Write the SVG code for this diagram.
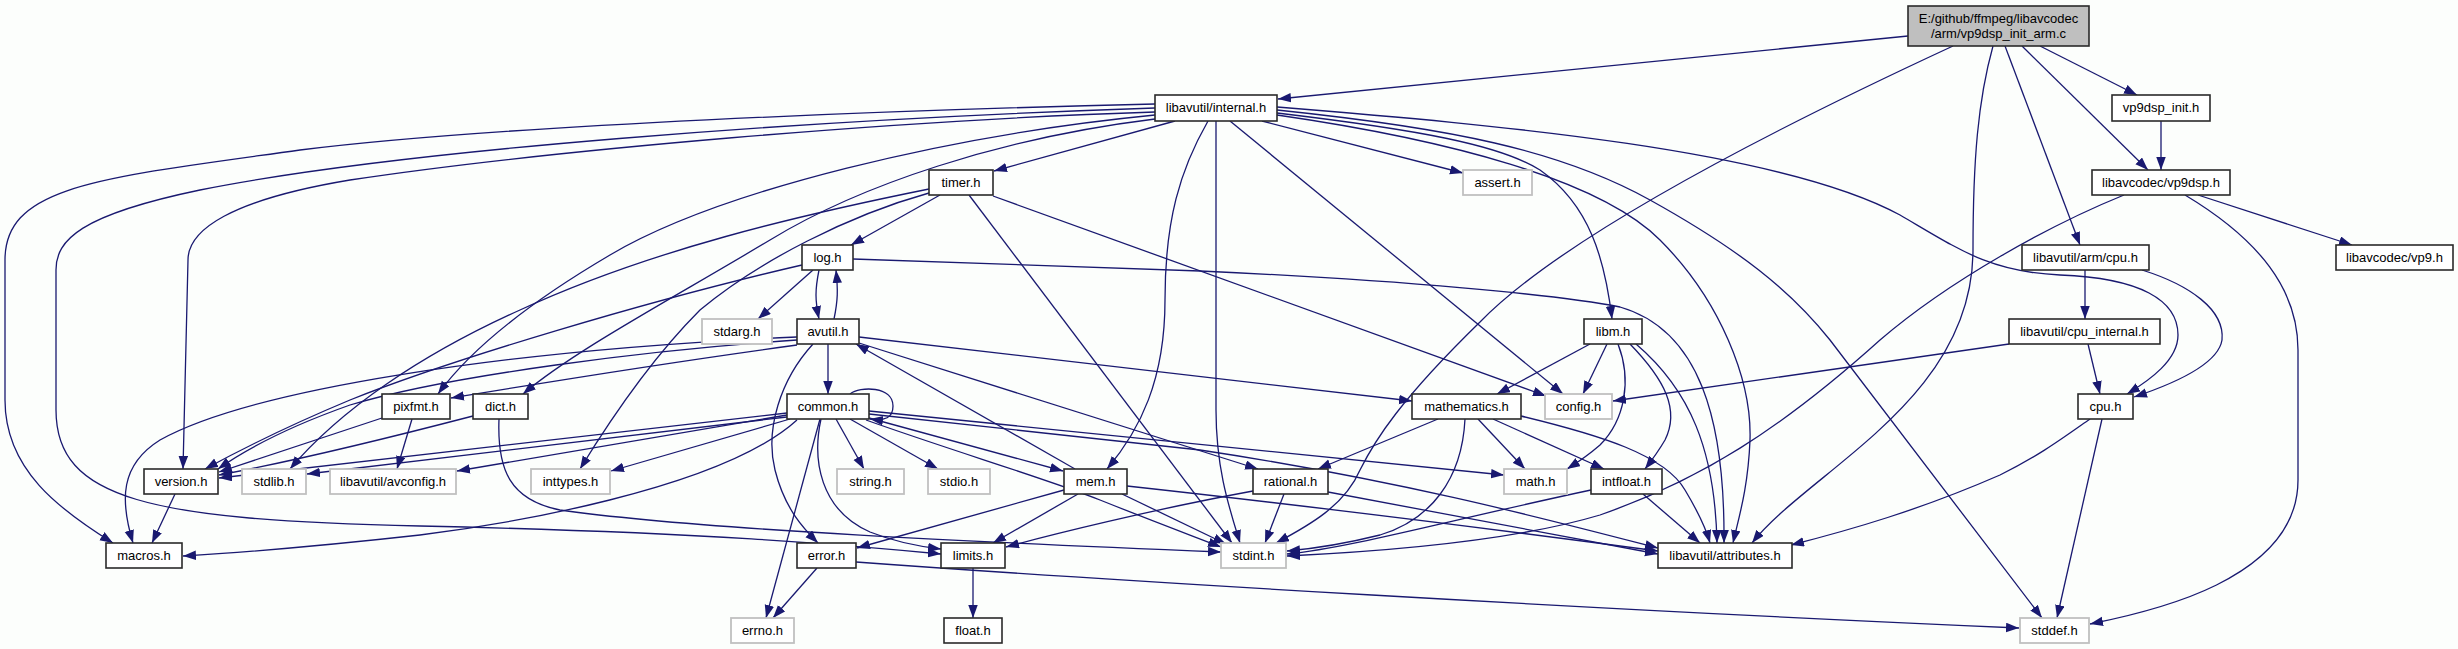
<svg xmlns="http://www.w3.org/2000/svg" width="2458" height="649" viewBox="0 0 2458 649">
<style>
.bg{fill:#fcfefc}
.e{fill:none;stroke:#191970;stroke-width:1.3;marker-end:url(#ah)}
.n rect{fill:#ffffff;stroke:#2a2a2a;stroke-width:1.6}
.g rect{fill:#ffffff;stroke:#c0c0c0;stroke-width:1.8}
.r rect{fill:#bfbfbf;stroke:#2a2a2a;stroke-width:1.6}
text{font-family:"Liberation Sans",Arial,sans-serif;font-size:13px;fill:#000;text-anchor:middle}
</style>
<defs>
<marker id="ah" markerUnits="userSpaceOnUse" markerWidth="13" markerHeight="10" refX="13" refY="4.75" orient="auto">
<path d="M0,0 L13,4.75 L0,9.5 z" fill="#191970"/>
</marker>
</defs>
<rect class="bg" x="0" y="0" width="2458" height="649"/>
<g id="edges">
<path class="e" d="M1908,36 L1278,99"/>
<path class="e" d="M2040,46 L2137,95"/>
<path class="e" d="M2022,46 L2148,170"/>
<path class="e" d="M2005,46 L2080,245"/>
<path class="e" d="M1993,46 C1978,100 1973,160 1973,250 C1973,400 1810,470 1752,543"/>
<path class="e" d="M1953,46 C1750,140 1560,240 1480,322 C1400,400 1375,440 1360,470 C1345,505 1310,525 1276,543"/>
<path class="e" d="M2161,121 L2161,170"/>
<path class="e" d="M2198,195 L2352,245"/>
<path class="e" d="M2185,195 C2260,240 2298,290 2298,350 L2298,480 C2298,580 2150,612 2090,624"/>
<path class="e" d="M2124,195 C2050,225 1950,280 1880,340 C1780,430 1700,480 1600,515 C1500,545 1350,553 1287,556"/>
<path class="e" d="M1175,121 L994,171"/>
<path class="e" d="M1262,121 L1463,173"/>
<path class="e" d="M1155,104 C900,110 500,125 300,150 C100,178 5,185 5,260 L5,400 C5,470 60,510 113,543"/>
<path class="e" d="M1155,108 C800,120 400,150 200,190 C80,215 56,240 56,270 L56,410 C56,500 150,520 420,526 C700,532 850,545 941,554"/>
<path class="e" d="M1155,112 C900,120 550,150 350,180 C230,200 188,230 188,260 L183,469"/>
<path class="e" d="M1155,115 C950,135 720,190 610,255 C525,305 470,350 438,394"/>
<path class="e" d="M1155,119 C1000,138 860,185 770,240 C670,300 575,350 523,394"/>
<path class="e" d="M1208,121 C1180,170 1165,220 1165,300 C1165,380 1140,430 1107,469"/>
<path class="e" d="M1216,121 L1216,410 C1216,470 1230,510 1240,543"/>
<path class="e" d="M1230,121 L1563,394"/>
<path class="e" d="M1277,113 C1420,130 1500,145 1540,170 C1590,205 1605,260 1612,319"/>
<path class="e" d="M1277,115 C1450,140 1600,180 1660,240 C1720,300 1752,380 1750,440 C1748,490 1738,520 1733,543"/>
<path class="e" d="M1277,110 C1450,128 1560,150 1650,200 C1740,250 1790,290 1830,340 L2042,618"/>
<path class="e" d="M1277,107 C1500,125 1780,150 1900,215 C1960,250 1990,272 2060,275 C2140,278 2178,300 2178,335 C2178,360 2150,380 2127,394"/>
<path class="e" d="M940,195 L851,245"/>
<path class="e" d="M969,195 L1232,543"/>
<path class="e" d="M993,196 L1546,396"/>
<path class="e" d="M929,189 C800,215 650,250 520,310 C420,355 340,410 290,469"/>
<path class="e" d="M929,193 C850,215 760,260 700,310 C650,360 610,420 580,469"/>
<path class="e" d="M813,270 L758,319"/>
<path class="e" d="M819,270 C815,290 815,300 819,319"/>
<path class="e" d="M853,259 L1200,271 C1400,280 1560,295 1620,307 C1700,330 1725,420 1724,543"/>
<path class="e" d="M802,265 C650,300 450,360 350,400 C290,425 240,450 205,469"/>
<path class="e" d="M834,319 C838,300 838,290 836,270"/>
<path class="e" d="M828,344 L828,394"/>
<path class="e" d="M813,344 C780,380 765,430 775,470 C785,510 805,530 818,543"/>
<path class="e" d="M859,343 L1258,469"/>
<path class="e" d="M859,337 L1412,401"/>
<path class="e" d="M797,340 C650,350 450,375 350,405 C285,428 245,450 218,469"/>
<path class="e" d="M797,337 C500,350 250,390 160,440 C120,465 120,500 133,543"/>
<path class="e" d="M797,345 C650,365 530,385 451,398"/>
<path class="e" d="M850,394 C860,386 893,386 893,406 C893,418 885,421 870,419"/>
<path class="e" d="M836,419 L864,469"/>
<path class="e" d="M850,419 L938,469"/>
<path class="e" d="M869,418 L1063,471"/>
<path class="e" d="M820,419 L766,618"/>
<path class="e" d="M821,419 C812,460 820,510 870,532 C895,542 915,546 941,549"/>
<path class="e" d="M869,411 L1504,475"/>
<path class="e" d="M869,414 L1200,450 C1400,480 1550,520 1658,548"/>
<path class="e" d="M866,420 C950,450 1050,480 1100,500 C1150,520 1190,535 1221,547"/>
<path class="e" d="M790,419 L611,471"/>
<path class="e" d="M787,415 L457,471"/>
<path class="e" d="M787,417 L307,474"/>
<path class="e" d="M787,413 L219,478"/>
<path class="e" d="M797,420 C720,490 500,525 420,535 C330,545 250,552 183,556"/>
<path class="e" d="M1075,469 L856,344"/>
<path class="e" d="M1064,490 L857,548"/>
<path class="e" d="M1078,494 L993,543"/>
<path class="e" d="M1122,494 L1226,544"/>
<path class="e" d="M1127,486 C1300,505 1500,530 1658,551"/>
<path class="e" d="M1284,494 L1265,543"/>
<path class="e" d="M1253,491 C1150,510 1050,535 1006,547"/>
<path class="e" d="M1328,492 C1450,515 1560,535 1658,554"/>
<path class="e" d="M1438,419 L1318,469"/>
<path class="e" d="M1465,419 C1462,480 1430,520 1380,535 C1340,545 1310,549 1287,551"/>
<path class="e" d="M1478,419 L1525,469"/>
<path class="e" d="M1493,419 L1604,469"/>
<path class="e" d="M1521,416 C1600,435 1665,455 1685,490 C1697,510 1705,525 1710,543"/>
<path class="e" d="M1591,490 C1450,520 1350,548 1287,554"/>
<path class="e" d="M1643,494 L1700,543"/>
<path class="e" d="M1590,344 L1497,394"/>
<path class="e" d="M1607,344 L1583,394"/>
<path class="e" d="M1618,344 C1632,380 1625,420 1600,445 C1585,458 1575,464 1567,469"/>
<path class="e" d="M1630,344 C1665,380 1680,410 1665,440 C1658,452 1652,460 1645,469"/>
<path class="e" d="M1636,344 C1690,390 1715,450 1717,543"/>
<path class="e" d="M499,419 C497,470 510,500 560,510 C700,530 1000,543 1221,552"/>
<path class="e" d="M473,416 C400,435 300,460 219,475"/>
<path class="e" d="M412,419 L397,469"/>
<path class="e" d="M382,418 L219,472"/>
<path class="e" d="M175,494 L152,543"/>
<path class="e" d="M973,568 L973,618"/>
<path class="e" d="M817,568 L773,618"/>
<path class="e" d="M856,562 C1100,580 1600,610 2019,628"/>
<path class="e" d="M2090,419 C2060,440 2040,455 2000,475 C1920,510 1850,530 1791,545"/>
<path class="e" d="M2102,419 L2057,618"/>
<path class="e" d="M2088,344 L2100,394"/>
<path class="e" d="M2009,344 L1613,401"/>
<path class="e" d="M2085,270 L2085,319"/>
<path class="e" d="M2142,270 C2190,285 2225,310 2222,340 C2218,365 2170,385 2134,397"/>
</g>
<g id="n_src" class="r"><rect x="1908" y="6" width="181" height="40"/><text x="1998.5" y="23">E:/github/ffmpeg/libavcodec</text><text x="1998.5" y="38">/arm/vp9dsp_init_arm.c</text></g>
<g id="n_internal" class="n"><rect x="1155" y="95" width="122" height="26"/><text x="1216" y="112">libavutil/internal.h</text></g>
<g id="n_vp9dsp_init" class="n"><rect x="2112" y="95" width="98" height="26"/><text x="2161" y="112">vp9dsp_init.h</text></g>
<g id="n_timer" class="n"><rect x="929" y="170" width="64" height="25"/><text x="961" y="186.5">timer.h</text></g>
<g id="n_assert" class="g"><rect x="1463" y="170" width="69" height="25"/><text x="1497.5" y="186.5">assert.h</text></g>
<g id="n_vp9dsp" class="n"><rect x="2092" y="170" width="138" height="25"/><text x="2161" y="186.5">libavcodec/vp9dsp.h</text></g>
<g id="n_log" class="n"><rect x="802" y="245" width="51" height="25"/><text x="827.5" y="261.5">log.h</text></g>
<g id="n_armcpu" class="n"><rect x="2022" y="245" width="127" height="25"/><text x="2085.5" y="261.5">libavutil/arm/cpu.h</text></g>
<g id="n_vp9" class="n"><rect x="2336" y="245" width="117" height="25"/><text x="2394.5" y="261.5">libavcodec/vp9.h</text></g>
<g id="n_stdarg" class="g"><rect x="702" y="319" width="70" height="25"/><text x="737" y="335.5">stdarg.h</text></g>
<g id="n_avutil" class="n"><rect x="797" y="319" width="62" height="25"/><text x="828" y="335.5">avutil.h</text></g>
<g id="n_libm" class="n"><rect x="1584" y="319" width="58" height="25"/><text x="1613" y="335.5">libm.h</text></g>
<g id="n_cpuint" class="n"><rect x="2009" y="319" width="151" height="25"/><text x="2084.5" y="335.5">libavutil/cpu_internal.h</text></g>
<g id="n_pixfmt" class="n"><rect x="382" y="394" width="68" height="25"/><text x="416" y="410.5">pixfmt.h</text></g>
<g id="n_dict" class="n"><rect x="473" y="394" width="55" height="25"/><text x="500.5" y="410.5">dict.h</text></g>
<g id="n_common" class="n"><rect x="787" y="394" width="82" height="25"/><text x="828" y="410.5">common.h</text></g>
<g id="n_mathematics" class="n"><rect x="1412" y="394" width="109" height="25"/><text x="1466.5" y="410.5">mathematics.h</text></g>
<g id="n_config" class="g"><rect x="1545" y="394" width="67" height="25"/><text x="1578.5" y="410.5">config.h</text></g>
<g id="n_cpu" class="n"><rect x="2078" y="394" width="55" height="25"/><text x="2105.5" y="410.5">cpu.h</text></g>
<g id="n_version" class="n"><rect x="144" y="469" width="74" height="25"/><text x="181" y="485.5">version.h</text></g>
<g id="n_stdlib" class="g"><rect x="242" y="469" width="64" height="25"/><text x="274" y="485.5">stdlib.h</text></g>
<g id="n_avconfig" class="g"><rect x="330" y="469" width="126" height="25"/><text x="393" y="485.5">libavutil/avconfig.h</text></g>
<g id="n_inttypes" class="g"><rect x="531" y="469" width="79" height="25"/><text x="570.5" y="485.5">inttypes.h</text></g>
<g id="n_string" class="g"><rect x="837" y="469" width="67" height="25"/><text x="870.5" y="485.5">string.h</text></g>
<g id="n_stdio" class="g"><rect x="928" y="469" width="62" height="25"/><text x="959" y="485.5">stdio.h</text></g>
<g id="n_mem" class="n"><rect x="1064" y="469" width="63" height="25"/><text x="1095.5" y="485.5">mem.h</text></g>
<g id="n_rational" class="n"><rect x="1253" y="469" width="75" height="25"/><text x="1290.5" y="485.5">rational.h</text></g>
<g id="n_math" class="g"><rect x="1504" y="469" width="63" height="25"/><text x="1535.5" y="485.5">math.h</text></g>
<g id="n_intfloat" class="n"><rect x="1591" y="469" width="71" height="25"/><text x="1626.5" y="485.5">intfloat.h</text></g>
<g id="n_macros" class="n"><rect x="106" y="543" width="76" height="25"/><text x="144" y="559.5">macros.h</text></g>
<g id="n_error" class="n"><rect x="797" y="543" width="59" height="25"/><text x="826.5" y="559.5">error.h</text></g>
<g id="n_limits" class="n"><rect x="941" y="543" width="64" height="25"/><text x="973" y="559.5">limits.h</text></g>
<g id="n_stdint" class="g"><rect x="1221" y="543" width="65" height="25"/><text x="1253.5" y="559.5">stdint.h</text></g>
<g id="n_attributes" class="n"><rect x="1658" y="543" width="134" height="25"/><text x="1725" y="559.5">libavutil/attributes.h</text></g>
<g id="n_errno" class="g"><rect x="731" y="618" width="63" height="25"/><text x="762.5" y="634.5">errno.h</text></g>
<g id="n_float" class="n"><rect x="944" y="618" width="58" height="25"/><text x="973" y="634.5">float.h</text></g>
<g id="n_stddef" class="g"><rect x="2020" y="618" width="69" height="25"/><text x="2054.5" y="634.5">stddef.h</text></g>
</svg>
